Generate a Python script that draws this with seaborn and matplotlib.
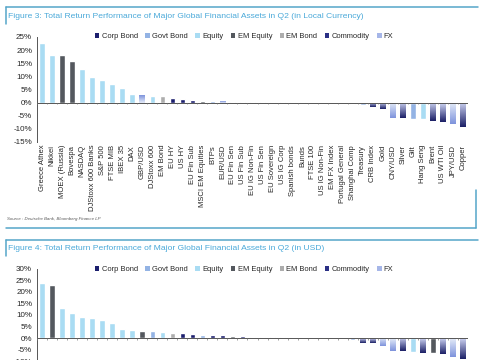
import numpy as np
import pandas as pd
import matplotlib
matplotlib.use('Agg')
import matplotlib.pyplot as plt
import seaborn as sns
from matplotlib.patches import Patch
from matplotlib.lines import Line2D
from matplotlib.colors import LinearSegmentedColormap

# Figure 3 data (local currency)
local_labels = ["Greece Athex", "Nikkei", "MOEX (Russia)", "Bovespa", "NASDAQ",
                "DJStoxx 600 Banks", "S&P 500", "FTSE MIB", "IBEX 35", "DAX",
                "GBP/USD", "DJStoxx 600", "EM Bond", "EU HY", "US HY", "EU Fin Sub",
                "MSCI EM Equities", "BTPs", "EUR/USD", "EU Fin Sen", "US Fin Sub",
                "EU IG Non-Fin", "US Fin Sen", "EU Sovereign", "US IG Corp",
                "Spanish bonds", "Bunds", "FTSE 100", "US IG Non-Fin", "EM FX Index",
                "Portugal General", "Shanghai Comp", "Treasury", "CRB Index", "Gold",
                "CNY/USD", "Silver", "Gilt", "Hang Seng", "Brent", "US WTI Oil",
                "JPY/USD", "Copper"]
local_values = [22.6, 18.3, 18.3, 15.7, 12.8, 9.6, 8.6, 7.0, 5.5, 3.2,
                3.0, 2.7, 2.4, 1.6, 1.2, 1.0, 0.8, 0.6, 0.5, 0.4, 0.4,
                0.3, 0.2, 0.2, 0.1, 0.1, 0.05, -0.1, -0.2, -0.2, -0.3,
                -0.6, -0.8, -1.6, -2.3, -6.0, -6.0, -6.4, -6.4, -7.0, -7.2,
                -8.3, -9.2]
local_groups = ["Equity", "Equity", "EM Equity", "EM Equity", "Equity",
                "Equity", "Equity", "Equity", "Equity", "Equity",
                "FX", "Equity", "EM Bond", "Corp Bond", "Corp Bond", "Corp Bond",
                "EM Equity", "Govt Bond", "FX", "Corp Bond", "Corp Bond",
                "Corp Bond", "Corp Bond", "Govt Bond", "Corp Bond",
                "Govt Bond", "Govt Bond", "Equity", "Corp Bond", "FX",
                "Equity", "EM Equity", "Govt Bond", "Commodity", "Commodity",
                "FX", "Commodity", "Govt Bond", "Equity", "Commodity", "Commodity",
                "FX", "Commodity"]

# Figure 4 data (USD) - axis labels are cut off in the picture
usd_values = [23.9, 22.8, 13.1, 11.0, 9.1, 8.8, 7.8, 6.5, 4.0, 3.3,
              3.0, 2.9, 2.6, 2.3, 2.3, 1.7, 1.3, 1.3, 1.2, 0.8, 0.8,
              0.5, 0.5, 0.5, 0.3, 0.2, 0.1, 0.05, 0.0, -0.1, -0.2,
              -0.9, -2.0, -2.0, -3.5, -5.5, -5.8, -6.1, -6.3, -6.3, -6.9,
              -8.1, -9.0]
usd_groups = ["Equity", "EM Equity", "Equity", "Equity", "Equity", "Equity",
              "Equity", "Equity", "Equity", "Equity", "EM Equity", "Govt Bond",
              "Equity", "EM Bond", "Corp Bond", "Corp Bond", "Govt Bond",
              "Corp Bond", "Corp Bond", "EM Equity", "Corp Bond", "Govt Bond",
              "Govt Bond", "Corp Bond", "Govt Bond", "Corp Bond", "Corp Bond",
              "Govt Bond", "Equity", "Govt Bond", "Govt Bond", "Govt Bond",
              "Commodity", "Commodity", "FX", "FX", "Commodity", "Equity",
              "Commodity", "EM Equity", "Commodity", "FX", "Commodity"]

group_order = ["Corp Bond", "Govt Bond", "Equity", "EM Equity", "EM Bond",
               "Commodity", "FX"]
group_colors = {"Corp Bond": "#1c1f6e", "Govt Bond": "#93b3e4",
                "Equity": "#a9dcf3", "EM Equity": "#54585e",
                "EM Bond": "#adadad", "Commodity": "#2b3085", "FX": "#a6b6e8"}
gradients = {"Commodity": ("#cdd3f2", "#1b1f66"), "FX": ("#e6edf9", "#7e93dc")}

title_color = "#4aa9d9"
line_color = "#55a6c9"
text_color = "#262626"


def px(x, y):
    return x / 485, 1 - y / 360


def gradient_bars(ax, groups):
    for p in list(ax.patches):
        idx = int(round(p.get_x() + p.get_width() / 2))
        g = groups[idx]
        if g not in gradients:
            continue
        cmap = LinearSegmentedColormap.from_list(g, gradients[g])
        grad = np.linspace(0, 1, 64).reshape(-1, 1)
        x0, y0, w, h = p.get_x(), p.get_y(), p.get_width(), p.get_height()
        im = ax.imshow(grad, cmap=cmap, extent=(x0, x0 + w, y0, y0 + h),
                       origin='lower', aspect='auto', zorder=p.get_zorder() + 0.1)
        im.set_clip_path(p)


def draw_chart(ax, labels, values, groups, ylim, yticks, show_labels):
    df = pd.DataFrame({"asset": labels, "ret": values, "group": groups})
    sns.barplot(data=df, x="asset", y="ret", hue="group", order=labels,
                hue_order=group_order, palette=group_colors, dodge=False,
                width=0.55, saturation=1, legend=False, ax=ax)
    n = len(labels)
    ax.set_autoscale_on(False)
    gradient_bars(ax, groups)
    ax.set_xlim(-0.5, n - 0.5)
    ax.set_ylim(*ylim)
    ax.axhline(0, color="#555555", lw=0.7, zorder=5)
    tick = (ylim[1] - ylim[0]) * 0.015
    ax.vlines(np.arange(n + 1) - 0.5, -tick, 0, color="#777777", lw=0.5, zorder=5)
    ax.set_yticks(yticks)
    ax.set_yticklabels([f"{v:.0f}%" for v in yticks], fontsize=5.8, color=text_color)
    ax.tick_params(axis="y", length=2, width=0.6, pad=1.5, colors="#555555",
                   labelcolor=text_color)
    ax.set_xlabel("")
    ax.set_ylabel("")
    for s in ["top", "right", "bottom"]:
        ax.spines[s].set_visible(False)
    ax.spines["left"].set_color("#555555")
    ax.spines["left"].set_linewidth(0.7)
    if show_labels:
        ax.set_xticks(range(n))
        ax.set_xticklabels(labels, rotation=90, fontsize=5.5, color=text_color)
        ax.tick_params(axis="x", length=0, pad=2)
    else:
        ax.set_xticks([])


sns.set_style("white")
plt.rcParams["font.family"] = ["Liberation Sans", "DejaVu Sans"]

fig = plt.figure(figsize=(4.85, 3.6), dpi=100)

ax1 = fig.add_axes([37 / 485, 1 - 142 / 360, 431 / 485, 105 / 360])
draw_chart(ax1, local_labels, local_values, local_groups, (-15, 25),
           np.arange(-15, 26, 5), True)

ax2 = fig.add_axes([37 / 485, 1 - 372.7 / 360, 431 / 485, 104 / 360])
draw_chart(ax2, list(range(len(usd_values))), usd_values, usd_groups, (-15, 30),
           np.arange(-10, 31, 5), False)

# legends
handles = [Patch(facecolor=group_colors[g], edgecolor="none", label=g) for g in group_order]
for ytop in (33, 266):
    fig.legend(handles=handles, loc="upper left", bbox_to_anchor=px(95, ytop),
               ncol=7, frameon=False, fontsize=5.4, handlelength=0.6,
               handleheight=0.6, handletextpad=0.3, columnspacing=1.0,
               borderaxespad=0, borderpad=0, labelcolor=text_color)

# titles and frame lines
fig.text(*px(8, 16), "Figure 3: Total Return Performance of Major Global Financial Assets in Q2 (in Local Currency)",
         fontsize=6.1, color=title_color, va="center", ha="left")
fig.text(*px(8, 248), "Figure 4: Total Return Performance of Major Global Financial Assets in Q2 (in USD)",
         fontsize=6.1, color=title_color, va="center", ha="left")
fig.text(*px(7, 219), "Source : Deutsche Bank, Bloomberg Finance LP",
         fontsize=3.2, style="italic", color="#555555", va="center", ha="left")

segments = [((6, 7), (478, 7)), ((6, 7), (6, 24)),
            ((6, 228), (476, 228)), ((476, 190), (476, 228)),
            ((6, 240), (478, 240)), ((6, 240), (6, 256))]
for (xa, ya), (xb, yb) in segments:
    (fx0, fy0), (fx1, fy1) = px(xa, ya), px(xb, yb)
    fig.add_artist(Line2D([fx0, fx1], [fy0, fy1], color=line_color, lw=1.1,
                          transform=fig.transFigure))

fig.savefig("out.png", dpi=100)
